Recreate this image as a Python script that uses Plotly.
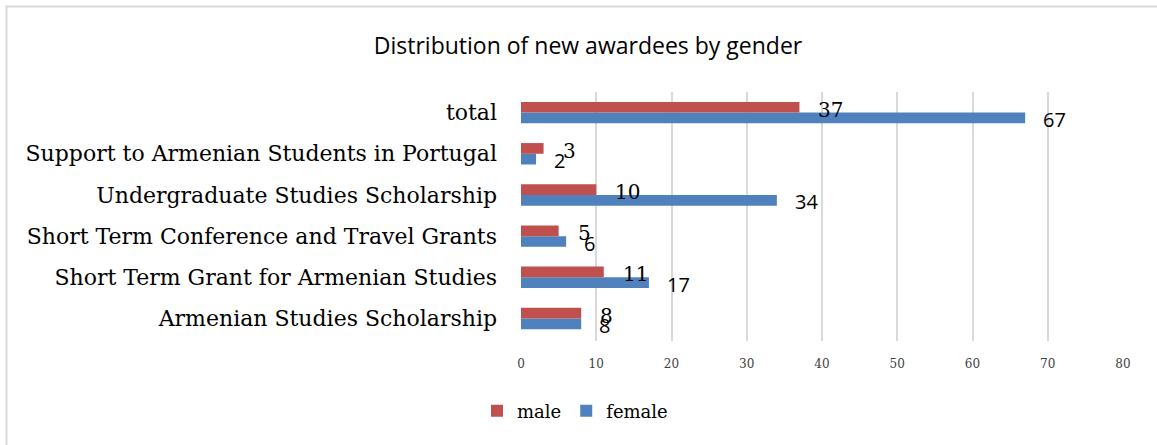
import plotly.graph_objects as go

# categories listed bottom -> top (plotly category axis starts at the bottom)
categories = [
    "Armenian Studies Scholarship",
    "Short Term Grant for Armenian Studies",
    "Short Term Conference and Travel Grants",
    "Undergraduate Studies Scholarship",
    "Support to Armenian Students in Portugal",
    "total",
]
male = [8, 11, 5, 10, 3, 37]
female = [8, 17, 6, 34, 2, 67]
x_ticks = [0, 10, 20, 30, 40, 50, 60, 70, 80]

W, H = 1157, 445
L, R, T, B = 521, 34, 92, 104

serif = "DejaVu Serif"
sans = "Open Sans"

fig = go.Figure()
# female first so it sits below male inside each group
fig.add_trace(go.Bar(y=categories, x=female, orientation="h", name="female",
                     marker=dict(color="#4f81bd", line=dict(width=0)), legendrank=2))
fig.add_trace(go.Bar(y=categories, x=male, orientation="h", name="male",
                     marker=dict(color="#c0504d", line=dict(width=0)), legendrank=1))

# data labels, placed past the bar end like in the original
for c, v in zip(categories, male):
    fig.add_annotation(x=v, y=c, text=str(v), showarrow=False, xanchor="left",
                       xshift=17, yshift=3, font=dict(family=serif, size=20, color="#000"))
for c, v in zip(categories, female):
    fig.add_annotation(x=v, y=c, text=str(v), showarrow=False, xanchor="left",
                       xshift=16, yshift=-7, font=dict(family=sans, size=20, color="#000"))

# chart border (only top/left visible in the source crop)
pw, ph = W - L - R, H - T - B
fig.add_shape(type="rect", xref="paper", yref="paper",
              x0=(6.5 - L) / pw, x1=(W + 20 - L) / pw,
              y0=-(H + 20 - (H - B)) / ph, y1=(H - B - 6.5) / ph,
              line=dict(color="#d9d9d9", width=2), fillcolor="rgba(0,0,0,0)")

fig.update_layout(
    width=W, height=H,
    margin=dict(l=L, r=R, t=T, b=B),
    paper_bgcolor="white", plot_bgcolor="white",
    barmode="group", bargap=0.48, bargroupgap=0,
    title=dict(text="Distribution of new awardees by gender", x=588 / W, xanchor="center",
               y=1 - 46 / H, yanchor="middle", font=dict(family=sans, size=23, color="#000")),
    xaxis=dict(range=[0, 80], tickvals=x_ticks, showgrid=True, gridcolor="#d9d9d9",
               gridwidth=1.5, zeroline=False, showline=False, ticks="",
               tickfont=dict(family=serif, size=12, color="#404040"), ticklabelstandoff=14),
    yaxis=dict(showgrid=False, zeroline=False, showline=False, ticks="",
               tickfont=dict(family=serif, size=22, color="#000"), ticklabelstandoff=23),
    legend=dict(orientation="h", xref="container", yref="container",
                x=477 / W, y=1 - 411 / H, xanchor="left", yanchor="middle",
                font=dict(family=serif, size=18, color="#000"), itemwidth=30,
                traceorder="normal"),
    showlegend=True,
)

# drop the browser's default body margin so the figure sits at the page origin
fig.write_html("out.html", config={"displayModeBar": False},
               post_script="document.body.style.margin='0';")
